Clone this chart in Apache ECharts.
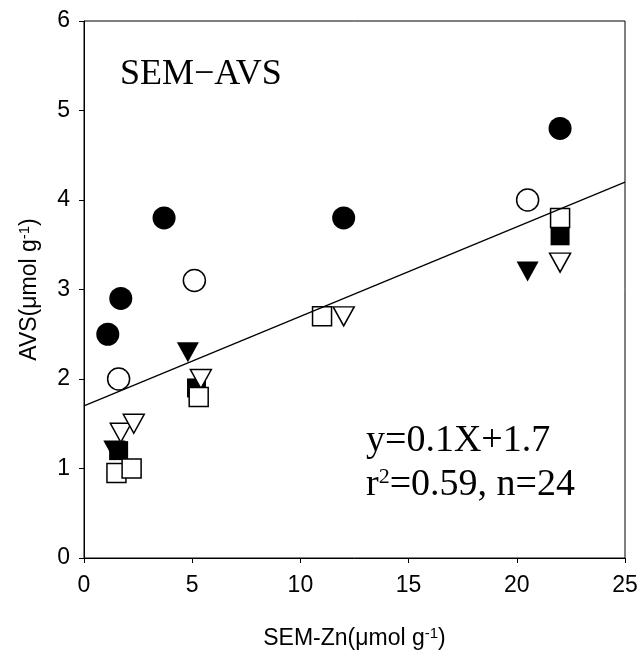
<!DOCTYPE html>
<html>
<head>
<meta charset="utf-8">
<title>SEM-AVS</title>
<script src="https://cdn.jsdelivr.net/npm/echarts@6/dist/echarts.min.js"></script>
<style>
	html, body { margin: 0; padding: 0; background: #fff; }
	#chart { width: 643px; height: 664px; }
</style>
</head>
<body>
<div id="chart"></div>
<script>
// x = SEM-Zn, y = AVS (umol/g)
var filledCircle   = [[1.1, 2.5], [1.7, 2.9], [3.7, 3.8], [12, 3.8], [22, 4.8]];
var openCircle     = [[1.6, 2.0], [5.1, 3.1], [20.5, 4.0]];
var filledTriangle = [[1.4, 1.2], [4.8, 2.3], [20.5, 3.2]];
var openTriangle   = [[1.7, 1.4], [2.3, 1.5], [5.4, 2.0], [12, 2.7], [22, 3.3]];
var filledSquare   = [[1.6, 1.2], [5.2, 1.9], [22, 3.6]];
var openSquare     = [[1.5, 0.95], [2.2, 1.0], [5.3, 1.8], [11, 2.7], [22, 3.8]];

var xTicks = [0, 5, 10, 15, 20, 25];
var yTicks = [0, 1, 2, 3, 4, 5, 6];

// regression y = 0.1x + 1.7
var fitSlope = 0.1;
var fitIntercept = 1.7;
var fitLine = [xTicks[0], xTicks[xTicks.length - 1]].map(function (x) {
	return [x, fitSlope * x + fitIntercept];
});

var serif = '"Liberation Serif", "Times New Roman", serif';
var sans = '"Liberation Sans", Arial, sans-serif';

function scatter(data, symbol, filled, size, rotate) {
	return {
		type: 'scatter',
		data: data,
		symbol: symbol,
		symbolSize: size,
		symbolRotate: rotate || 0,
		itemStyle: {
			color: filled ? '#000' : '#fff',
			borderColor: '#000',
			borderWidth: filled ? 0 : 1.5,
			opacity: 1
		},
		z: 3
	};
}

var axisName = {
	rich: {
		a: { fontFamily: sans, fontSize: 23, color: '#000' },
		s: { fontFamily: sans, fontSize: 15, color: '#000', verticalAlign: 'top', padding: [0, 0, 10, 0] }
	}
};

var option = {
	backgroundColor: '#fff',
	animation: false,
	grid: {
		left: 84,
		right: 18,
		top: 21,
		bottom: 106,
		show: true,
		borderColor: '#000',
		borderWidth: 1
	},
	xAxis: {
		type: 'value',
		min: xTicks[0],
		max: xTicks[xTicks.length - 1],
		interval: 5,
		name: '{a|SEM-Zn(μmol g}{s|-1}{a|)}',
		nameLocation: 'middle',
		nameGap: 68,
		nameTextStyle: axisName,
		axisLine: { show: true, lineStyle: { color: '#000', width: 1 } },
		axisTick: { show: true, inside: false, length: 5, lineStyle: { color: '#000' } },
		axisLabel: { fontFamily: sans, fontSize: 23, color: '#000', margin: 16 },
		splitLine: { show: false }
	},
	yAxis: {
		type: 'value',
		min: yTicks[0],
		max: yTicks[yTicks.length - 1],
		interval: 1,
		name: '{a|AVS(μmol g}{s|-1}{a|)}',
		nameLocation: 'middle',
		nameGap: 42,
		nameRotate: 90,
		nameTextStyle: axisName,
		axisLine: { show: true, lineStyle: { color: '#000', width: 1 } },
		axisTick: { show: true, inside: false, length: 5, lineStyle: { color: '#000' } },
		axisLabel: { fontFamily: sans, fontSize: 23, color: '#000', margin: 14 },
		splitLine: { show: false }
	},
	series: [
		scatter(filledCircle, 'circle', true, 23),
		scatter(openCircle, 'circle', false, 22),
		scatter(filledTriangle, 'triangle', true, [22, 20], 180),
		scatter(filledSquare, 'rect', true, 19),
		scatter(openTriangle, 'triangle', false, [21, 19], 180),
		scatter(openSquare, 'rect', false, 19),
		{
			type: 'line',
			data: fitLine,
			symbol: 'none',
			lineStyle: { color: '#000', width: 1.3 },
			z: 5
		}
	],
	graphic: [
		{
			type: 'text',
			left: 120,
			top: 57,
			style: { text: 'SEM−AVS', font: '36px ' + serif, fill: '#000' }
		},
		{
			type: 'text',
			left: 366,
			top: 422,
			style: { text: 'y=0.1X+1.7', font: '38px ' + serif, fill: '#000' }
		},
		{
			type: 'text',
			left: 366,
			top: 466,
			style: {
				text: '{t|r}{s|2}{t|=0.59, n=24}',
				fill: '#000',
				rich: {
					t: { fontFamily: serif, fontSize: 38, fill: '#000' },
					s: { fontFamily: serif, fontSize: 22, fill: '#000', verticalAlign: 'top', padding: [0, 0, 16, 0] }
				}
			}
		}
	]
};

echarts.init(document.getElementById('chart')).setOption(option);
</script>
</body>
</html>
